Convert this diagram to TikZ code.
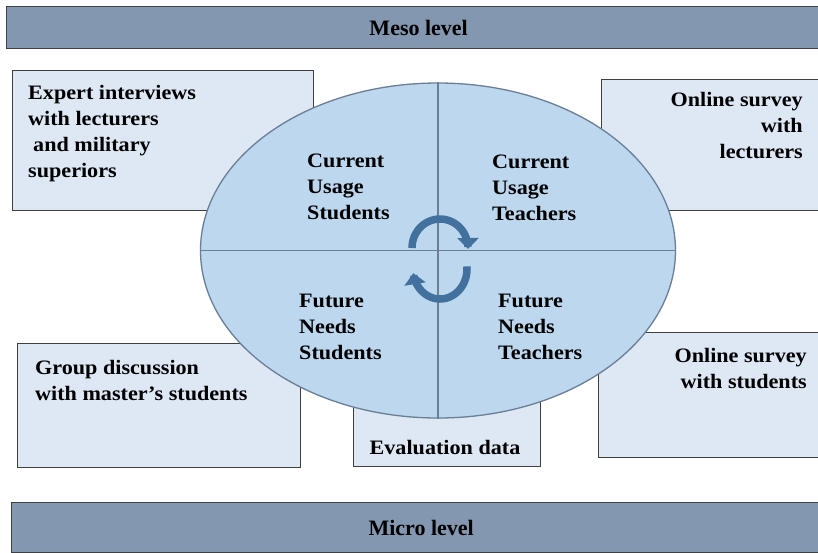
\documentclass[tikz,border=0pt]{standalone}
\usepackage{fontspec}
\setmainfont{Liberation Serif}[FakeStretch=1.08]
\newfontfamily\barfont{Liberation Serif}
\usetikzlibrary{shapes.geometric,arrows.meta}
\definecolor{barfill}{HTML}{8497B0}
\definecolor{boxfill}{HTML}{DEE8F5}
\definecolor{ellfill}{HTML}{BDD7EE}
\definecolor{ellline}{HTML}{6A7F96}
\definecolor{arrowcol}{HTML}{41719C}
\definecolor{edgecol}{HTML}{3F3F3F}
\begin{document}
\begin{tikzpicture}[x=1pt,y=-1pt,
  bar/.style={draw=edgecol, line width=1.3pt, fill=barfill, anchor=north west, inner sep=0pt,
    font=\barfont\fontsize{22}{26}\selectfont\bfseries},
  srcbox/.style={draw=edgecol, line width=1.2pt, fill=boxfill, anchor=north west, inner sep=0pt},
  txt/.style={inner sep=0pt, font=\fontsize{20.5}{26}\selectfont\bfseries},
  cyc/.style={draw=arrowcol, line width=7.5pt, -{Triangle[length=11pt,width=21pt]}}
]
\useasboundingbox (0,0) rectangle (818,552);
\clip (0,0) rectangle (818,552);
\fill[white] (0,0) rectangle (818,552);

% level bars
\node[bar, minimum width=824pt, minimum height=42pt] (meso) at (6,6) {Meso level};
\node[bar, minimum width=819pt, minimum height=50pt] (micro) at (11,502) {Micro level};

% source boxes
\node[srcbox, minimum width=301pt, minimum height=140pt] (expert) at (12,70) {};
\node[srcbox, minimum width=240pt, minimum height=131pt] (olect) at (601,79) {};
\node[srcbox, minimum width=283pt, minimum height=124pt] (group) at (17,343) {};
\node[srcbox, minimum width=187pt, minimum height=100pt] (eval) at (353,366) {};
\node[srcbox, minimum width=240pt, minimum height=125pt] (ostud) at (598,332) {};

% central ellipse
\node[ellipse, draw=ellline, fill=ellfill, line width=1.3pt, inner sep=0pt,
      minimum width=475pt, minimum height=335pt] (ell) at (438,250.5) {};
\draw[ellline, line width=1.2pt] (ell.north) -- (ell.south);
\draw[ellline, line width=1.2pt] (ell.west) -- (ell.east);

% cycle arrows
\draw[cyc] plot[domain=180:-2, samples=40] ({440+28*cos(\x)},{248-29*sin(\x)});
\draw[cyc] plot[domain=5:-172, samples=40] ({440+27*cos(\x)},{269-30*sin(\x)});

% texts (anchor = baseline of the last line)
\node[txt, anchor=base west, align=left] (texpert) at (28,177)
  {Expert interviews\\with lecturers\\\hspace*{5pt}and military\\superiors};
\node[txt, anchor=base east, align=right] (tolect) at (803,158)
  {Online survey\\with\\lecturers};
\node[txt, anchor=base west, align=left] (tgroup) at (35,400)
  {Group discussion\\with master's students};
\node[txt, anchor=base] (teval) at (445,454) {Evaluation data};
\node[txt, anchor=base east, align=right] (tostud) at (807,388)
  {Online survey\\with students};

\node[txt, anchor=base west, align=left] (cus) at (307,219) {Current\\Usage\\Students};
\node[txt, anchor=base west, align=left] (cut) at (492,220) {Current\\Usage\\Teachers};
\node[txt, anchor=base west, align=left] (fns) at (299,359) {Future\\Needs\\Students};
\node[txt, anchor=base west, align=left] (fnt) at (498,359) {Future\\Needs\\Teachers};
\end{tikzpicture}
\end{document}
